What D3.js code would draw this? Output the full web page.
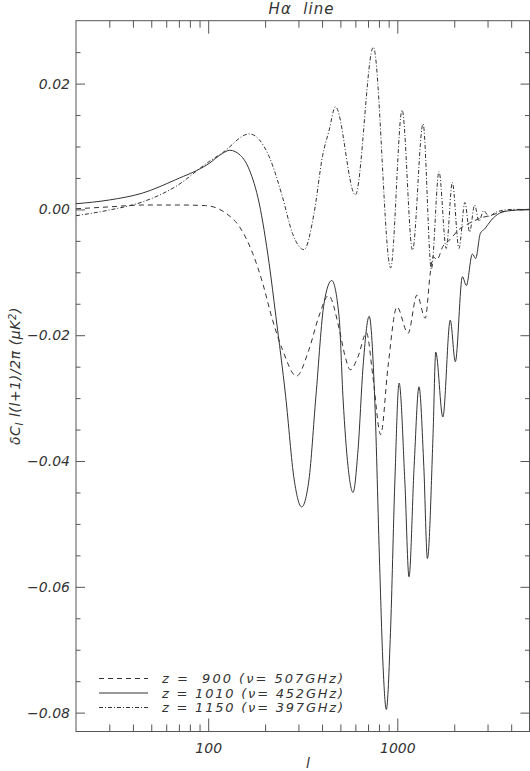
<!DOCTYPE html>
<html>
<head>
<meta charset="utf-8">
<script src="https://cdnjs.cloudflare.com/ajax/libs/d3/7.8.5/d3.min.js"></script>
<style>
  html, body { margin: 0; padding: 0; background: #fff; }
  svg { display: block; }
  text { font-family: 'DejaVu Sans', sans-serif; font-style: italic; fill: #333; }
</style>
</head>
<body>
<svg id="chart" width="530" height="771"></svg>
<script>
// z = 900 (dashed)
const ell900 = [20, 30, 45, 70, 97, 124, 146, 172, 194, 219, 247, 293, 341, 385, 433, 497, 530, 565, 620, 687,
  743, 817, 893, 996, 1140, 1271, 1405, 1494, 1547, 1620, 1740, 1900, 2100, 2400, 2750, 3150, 3700, 5000];
const dc900 = [0.0001, 0.0004, 0.0007, 0.0007, 0.0006, -0.0006, -0.0027, -0.0070, -0.0117, -0.0176, -0.0223,
  -0.0265, -0.0223, -0.0170, -0.0137, -0.0195, -0.0234, -0.0255, -0.0234, -0.0196, -0.0266, -0.0358, -0.0250,
  -0.0155, -0.0197, -0.0136, -0.0173, -0.0101, -0.0075, -0.0080, -0.0059, -0.0048, -0.0033, -0.0022, -0.0014,
  -0.0009, -0.0003, 0];

// z = 1010 (solid)
const ell1010 = [20, 30, 45, 67, 101, 119, 130, 148, 165, 186, 210, 228, 257, 285, 312, 341, 371, 410, 450, 492,
  517, 549, 583, 620, 659, 710, 760, 807, 841, 875, 920, 970, 1022, 1097, 1153, 1227, 1302, 1381, 1443, 1546,
  1597, 1741, 1905, 2027, 2209, 2318, 2493, 2596, 2749, 2897, 3142, 3475, 3924, 5000];
const dc1010 = [0.0009, 0.0015, 0.0026, 0.0047, 0.0073, 0.0089, 0.0094, 0.0086, 0.0063, 0.0010, -0.0086, -0.0170,
  -0.0298, -0.0430, -0.0473, -0.0430, -0.0298, -0.0149, -0.0113, -0.0170, -0.0303, -0.0409, -0.0450, -0.0382,
  -0.0250, -0.0170, -0.0303, -0.0568, -0.0727, -0.0795, -0.0673, -0.0435, -0.0276, -0.0435, -0.0584, -0.0409,
  -0.0282, -0.0409, -0.0555, -0.0356, -0.0227, -0.0330, -0.0176, -0.0242, -0.0107, -0.0121, -0.0071, -0.0078,
  -0.0038, -0.0031, -0.0017, -0.0006, -0.0002, 0];

// z = 1150 (dash-dot)
const ell1150 = [20, 30, 45, 67, 101, 119, 165, 210, 247, 279, 321, 363, 402, 436, 471, 600, 747, 922, 1060,
  1203, 1368, 1514, 1661, 1815, 1954, 2118, 2278, 2412, 2563, 2703, 2860, 3050, 3340, 4070, 5000];
const dc1150 = [-0.0010, -0.0001, 0.0012, 0.0036, 0.0076, 0.0090, 0.0120, 0.0084, 0.0020, -0.0038, -0.0064,
  -0.0006, 0.0084, 0.0126, 0.0163, 0.0023, 0.0258, -0.0093, 0.0158, -0.0065, 0.0136, -0.0095, 0.0060, -0.0062,
  0.0043, -0.0062, 0.0011, -0.0036, 0.0007, -0.0019, -0.0002, -0.0011, -0.0004, 0, 0];

const xMajor = [100, 1000];
const xMinor = [30, 40, 50, 60, 70, 80, 90, 200, 300, 400, 500, 600, 700, 800, 900, 2000, 3000, 4000];
const yMajor = [0.02, 0, -0.02, -0.04, -0.06, -0.08];
const yMinor = [0.025, 0.015, 0.01, 0.005, -0.005, -0.01, -0.015, -0.025, -0.03, -0.035, -0.045, -0.05,
  -0.055, -0.065, -0.07, -0.075];
const legendLabels = ["z =  900 (ν= 507GHz)", "z = 1010 (ν= 452GHz)", "z = 1150 (ν= 397GHz)"];
const legendDash = ["5,4", null, "4,2,1,2"];

const svg = d3.select("#chart");
const plotLeft = 76, plotRight = 529.5, plotTop = 20.7, plotBottom = 731.5;

const x = d3.scaleLog().domain([20, 5000]).range([plotLeft, plotRight]);
const y = d3.scaleLinear().domain([-0.083, 0.03]).range([plotBottom, plotTop]);

const fmtY = d => d === 0 ? "0.00" : d3.format(".2f")(d).replace("-", "\u2212");

// bottom / top axes, ticks pointing inward
svg.append("g").attr("transform", `translate(0,${plotBottom})`)
  .call(d3.axisBottom(x).tickValues(xMajor).tickSize(-13).tickPadding(12).tickFormat(d3.format("d")));
svg.append("g").attr("transform", `translate(0,${plotBottom})`)
  .call(d3.axisBottom(x).tickValues(xMinor).tickSize(-7).tickFormat(""));
svg.append("g").attr("transform", `translate(0,${plotTop})`)
  .call(d3.axisTop(x).tickValues(xMajor).tickSize(-13).tickFormat(""));
svg.append("g").attr("transform", `translate(0,${plotTop})`)
  .call(d3.axisTop(x).tickValues(xMinor).tickSize(-7).tickFormat(""));

// left / right axes
svg.append("g").attr("transform", `translate(${plotLeft},0)`)
  .call(d3.axisLeft(y).tickValues(yMajor).tickSize(-9).tickPadding(6).tickFormat(fmtY));
svg.append("g").attr("transform", `translate(${plotLeft},0)`)
  .call(d3.axisLeft(y).tickValues(yMinor).tickSize(-4.5).tickFormat(""));
svg.append("g").attr("transform", `translate(${plotRight},0)`)
  .call(d3.axisRight(y).tickValues(yMajor).tickSize(-9).tickFormat(""));
svg.append("g").attr("transform", `translate(${plotRight},0)`)
  .call(d3.axisRight(y).tickValues(yMinor).tickSize(-4.5).tickFormat(""));

svg.selectAll(".domain").remove();
svg.selectAll(".tick line").attr("stroke", "#555");
svg.selectAll(".tick text")
  .style("font-family", "'DejaVu Sans', sans-serif")
  .style("font-style", "italic")
  .style("font-size", "14px")
  .attr("fill", "#333");

// frame
svg.append("rect")
  .attr("x", plotLeft).attr("y", plotTop)
  .attr("width", plotRight - plotLeft).attr("height", plotBottom - plotTop)
  .attr("fill", "none").attr("stroke", "#555").attr("stroke-width", 1);

// curves
const line = d3.line()
  .x(d => x(d[0]))
  .y(d => y(d[1]))
  .curve(d3.curveMonotoneX);

const series = [
  { ell: ell900, dc: dc900, dash: legendDash[0] },
  { ell: ell1010, dc: dc1010, dash: legendDash[1] },
  { ell: ell1150, dc: dc1150, dash: legendDash[2] }
];

series.forEach(s => {
  svg.append("path")
    .datum(s.ell.map((l, i) => [l, s.dc[i]]))
    .attr("d", line)
    .attr("fill", "none")
    .attr("stroke", "#333")
    .attr("stroke-width", 1)
    .attr("stroke-dasharray", s.dash);
});

// legend
const legend = svg.append("g");
legendLabels.forEach((label, i) => {
  const ly = 678.5 + i * 14.5;
  legend.append("line")
    .attr("x1", 99).attr("x2", 148)
    .attr("y1", ly).attr("y2", ly)
    .attr("stroke", "#333").attr("stroke-width", 1)
    .attr("stroke-dasharray", legendDash[i]);
  legend.append("text")
    .attr("x", 162).attr("y", ly + 4.5)
    .attr("xml:space", "preserve")
    .attr("textLength", 181).attr("lengthAdjust", "spacing")
    .style("font-size", "13px")
    .text(label);
});

// title
svg.append("text")
  .attr("x", 301.5).attr("y", 14)
  .attr("text-anchor", "middle")
  .attr("xml:space", "preserve")
  .style("font-size", "15px")
  .style("letter-spacing", "1px")
  .text("H\u03b1  line");

// x label
svg.append("text")
  .attr("x", 308).attr("y", 768)
  .attr("text-anchor", "middle")
  .style("font-size", "14px")
  .text("l");

// y label
const yl = svg.append("text")
  .attr("transform", "translate(20,376) rotate(-90)")
  .attr("text-anchor", "middle")
  .attr("xml:space", "preserve")
  .style("font-size", "14px")
  .style("letter-spacing", "0.6px");
yl.append("tspan").text("\u03b4C");
yl.append("tspan").attr("baseline-shift", "-25%").style("font-size", "10px").text("l");
yl.append("tspan").text(" l(l+1)/2\u03c0 (\u03bcK");
yl.append("tspan").attr("baseline-shift", "40%").style("font-size", "10px").text("2");
yl.append("tspan").text(")");
</script>
</body>
</html>
